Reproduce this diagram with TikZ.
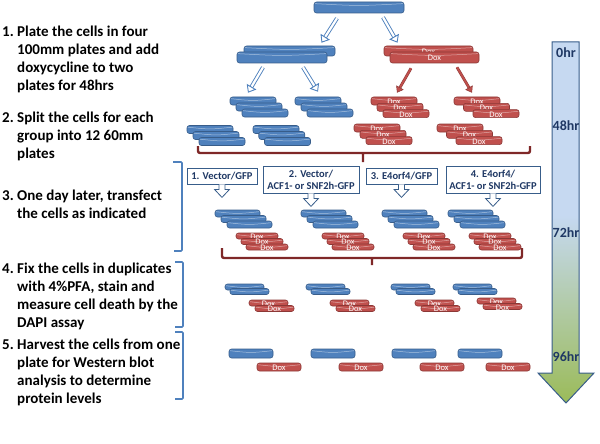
\documentclass[tikz,border=0pt]{standalone}
\usepackage{fontspec}
\setmainfont{Carlito}
\usetikzlibrary{arrows.meta,calc}

\definecolor{dishblue}{HTML}{4F81BD}
\definecolor{dishline}{HTML}{385D8A}
\definecolor{doxred}{HTML}{C0504D}
\definecolor{doxline}{HTML}{8C3836}
\definecolor{bracered}{HTML}{7F2828}
\definecolor{navy}{HTML}{1F3864}
\definecolor{tlblue}{HTML}{C6D9F1}
\definecolor{tlgreen}{HTML}{9BBB59}

\pgfdeclareverticalshading{timeshade}{100bp}{color(0bp)=(tlgreen); color(25bp)=(tlgreen); color(51bp)=(tlblue); color(100bp)=(tlblue)}

\tikzset{
  dish/.style={rectangle, rounded corners=2.5pt, inner sep=0pt, line width=0.6pt,
    path picture={\draw[white, opacity=0.5, line width=0.5pt]
      ([yshift=-1.6pt]path picture bounding box.north west) .. controls ([yshift=-4pt]path picture bounding box.north)
      .. ([yshift=-1.6pt]path picture bounding box.north east);}},
  bdish/.style 2 args={dish, draw=dishline, fill=dishblue, minimum width=#1, minimum height=#2},
  rdish/.style 2 args={dish, draw=doxline, fill=doxred, minimum width=#1, minimum height=#2, label={[doxtext]center:Dox}},
  doxtext/.style={text=white, font=\fontsize{8.5}{9}\selectfont, inner sep=0pt, yshift=-0.8pt},
  hollowarrow/.style={draw=dishblue, double=white, double distance=2.2pt, line width=0.9pt,
    -{Triangle[length=7pt, width=11pt, fill=white, line width=0.9pt]}},
  redarrow/.style={draw=doxline, double=doxred, double distance=1.8pt, line width=0.5pt,
    -{Triangle[length=6pt, width=8.5pt, fill=doxred, line width=0.5pt]}},
  callbox/.style={draw=dishline, fill=white, line width=0.8pt, text=navy, align=center, inner sep=0pt,
    font=\bfseries\fontsize{10.5}{12}\selectfont},
  calltail/.style={draw=dishline, fill=white, line width=0.8pt, line join=miter},
  brace/.style={draw=bracered, line width=2.4pt, rounded corners=2pt},
  bluebracket/.style={draw=dishblue, line width=1.6pt, rounded corners=1pt},
  stepnote/.style={anchor=north west, inner sep=0pt, font=\bfseries\fontsize{15}{18}\selectfont},
  timelabel/.style={text=navy, inner sep=0pt, font=\bfseries\fontsize{14}{16}\selectfont}
}

\begin{document}
\begin{tikzpicture}[x=1pt,y=-1pt]
\useasboundingbox (0,0) rectangle (600,444);

% Steps on the left
\node[stepnote] (step1) at (2,23.4) {\begin{tabular}{@{}p{15pt}@{}l@{}}
1. & Plate the cells in four\\ & 100mm plates and add\\ & doxycycline to two\\ & plates for 48hrs\end{tabular}};
\node[stepnote] (step2) at (2,109.4) {\begin{tabular}{@{}p{15pt}@{}l@{}}
2. & Split the cells for each\\ & group into 12 60mm\\ & plates\end{tabular}};
\node[stepnote] (step3) at (2,187.4) {\begin{tabular}{@{}p{15pt}@{}l@{}}
3. & One day later, transfect\\ & the cells as indicated\end{tabular}};
\node[stepnote] (step4) at (2,260.4) {\begin{tabular}{@{}p{15pt}@{}l@{}}
4. & Fix the cells in duplicates\\ & with 4\%PFA, stain and\\ & measure cell death by the\\ & DAPI assay\end{tabular}};
\node[stepnote] (step5) at (2,336.4) {\begin{tabular}{@{}p{15pt}@{}l@{}}
5. & Harvest the cells from one\\ & plate for Western blot\\ & analysis to determine\\ & protein levels\end{tabular}};

% Brackets for steps 3-5
\draw[bluebracket] (173,162) -- (182,162) -- (182,251) -- (174,251);
\draw[bluebracket] (175,262) -- (183,262) -- (183,327) -- (175,327);
\draw[bluebracket] (175,332) -- (183,332) -- (183,399) -- (175,399);

% 100mm plates
\node[bdish={90}{11}] (plate) at (359,7.5) {};
\node[bdish={91}{10}] (blue2a) at (289.5,51) {};
\node[bdish={90}{11}] (blue2b) at (282,57.5) {};
\node[rdish={89}{10}] (red2a) at (428.5,51) {};
\node[rdish={89}{11}] (red2b) at (434.5,57.5) {};

\draw[hollowarrow] ($(plate.south)+(-22,5)$) -- ($(blue2a.north)+(32,-3)$);
\draw[hollowarrow] ($(plate.south)+(24,4)$) -- ($(red2a.north)+(-31,-3)$);

% 60mm plates after the split
\foreach \n/\x/\y/\s in {split1/253/101/6,split2/318/101/6,split5/210/129.5/6,split6/276/129.5/5.75}
  \foreach \i in {0,1,2}
    \node[bdish={46}{8}] (\n-\i) at (\x+\s*\i,\y+6*\i) {};
\foreach \n/\x/\y/\s in {split3/394/101/6,split4/477/101/9.5,split7/377/128/6,split8/460/128/9.5}
  \foreach \i in {0,1,2}
    \node[rdish={46}{8}] (\n-\i) at (\x+\s*\i,\y+6.3*\i) {};

\draw[hollowarrow] ($(blue2b.south)+(-19,4)$) -- ($(split1-0.north)+(-5,-4)$);
\draw[hollowarrow] ($(blue2b.south)+(21,4)$) -- ($(split2-0.north)+(0,-5)$);
\draw[redarrow] ($(red2b.south)+(-23.5,5)$) -- ($(split3-0.north)+(3,-4)$);
\draw[redarrow] ($(red2b.south)+(22.5,4)$) -- ($(split4-0.north)+(-5,-4)$);

\draw[brace] (198,146) -- (198,153) -- (530,153) -- (530,146) (363,153) -- (363,162);

% Transfection groups
\node[callbox, minimum width=70, minimum height=16] (vgfp) at (222,176) {1. Vector/GFP};
\node[callbox, minimum width=96, minimum height=27] (vacf) at (311,179.5) {2. Vector/\\ACF1- or SNF2h-GFP};
\node[callbox, minimum width=71, minimum height=16] (egfp) at (401.5,176) {3. E4orf4/GFP};
\node[callbox, minimum width=94, minimum height=27] (eacf) at (493,179.5) {4. E4orf4/\\ACF1- or SNF2h-GFP};
\foreach \c in {vgfp,vacf,egfp,eacf}
  \draw[calltail] ($(\c.south)+(-3,0)$) -- ++(0,5) -- ++(-4.5,0) -- ++(7.5,8) -- ++(7.5,-8) -- ++(-4.5,0) -- ++(0,-5);

\foreach \k/\dx in {1/0,2/86,3/167,4/233} {
  \foreach \i in {0,1,2}
    \node[bdish={45}{7}] (tb\k-\i) at (237.5+\dx+6*\i,213.5+5.5*\i) {};
  \foreach \i in {0,1,2}
    \node[rdish={42}{6}] (tr\k-\i) at (257+\dx+5*\i,236+5.5*\i) {};
}

\draw[brace] (222,248) -- (222,258) -- (522,258) -- (522,248) (372,258) -- (372,265);

% Fixed duplicates
\foreach \k/\dx/\dy in {1/0/0,2/81/0,3/166/0,4/228/-2} {
  \foreach \i in {0,1}
    \node[bdish={39}{6}] (fb\k-\i) at (244.5+\dx+5*\i,287+4.5*\i) {};
  \foreach \i in {0,1}
    \node[rdish={39}{6}] (fr\k-\i) at (268.5+\dx+6*\i,303+\dy+5.5*\i) {};
}

% Harvested plates
\foreach \k/\dx in {1/0,2/82,3/163,4/229} {
  \node[bdish={44}{9}] (hb\k) at (251+\dx,353.5) {};
  \node[rdish={44}{8}] (hr\k) at (279+\dx,367) {};
}

% Time line
\shade[shading=timeshade, draw=dishline, line width=1pt] (552,42) -- (579,42) -- (579,373) -- (594,373)
  -- (566,403) -- (538,373) -- (552,373) -- cycle;
\node[timelabel] (t0) at (566,53) {0hr};
\node[timelabel] (t48) at (566,126) {48hr};
\node[timelabel] (t72) at (566,233) {72hr};
\node[timelabel] (t96) at (566,357) {96hr};

\end{tikzpicture}
\end{document}
